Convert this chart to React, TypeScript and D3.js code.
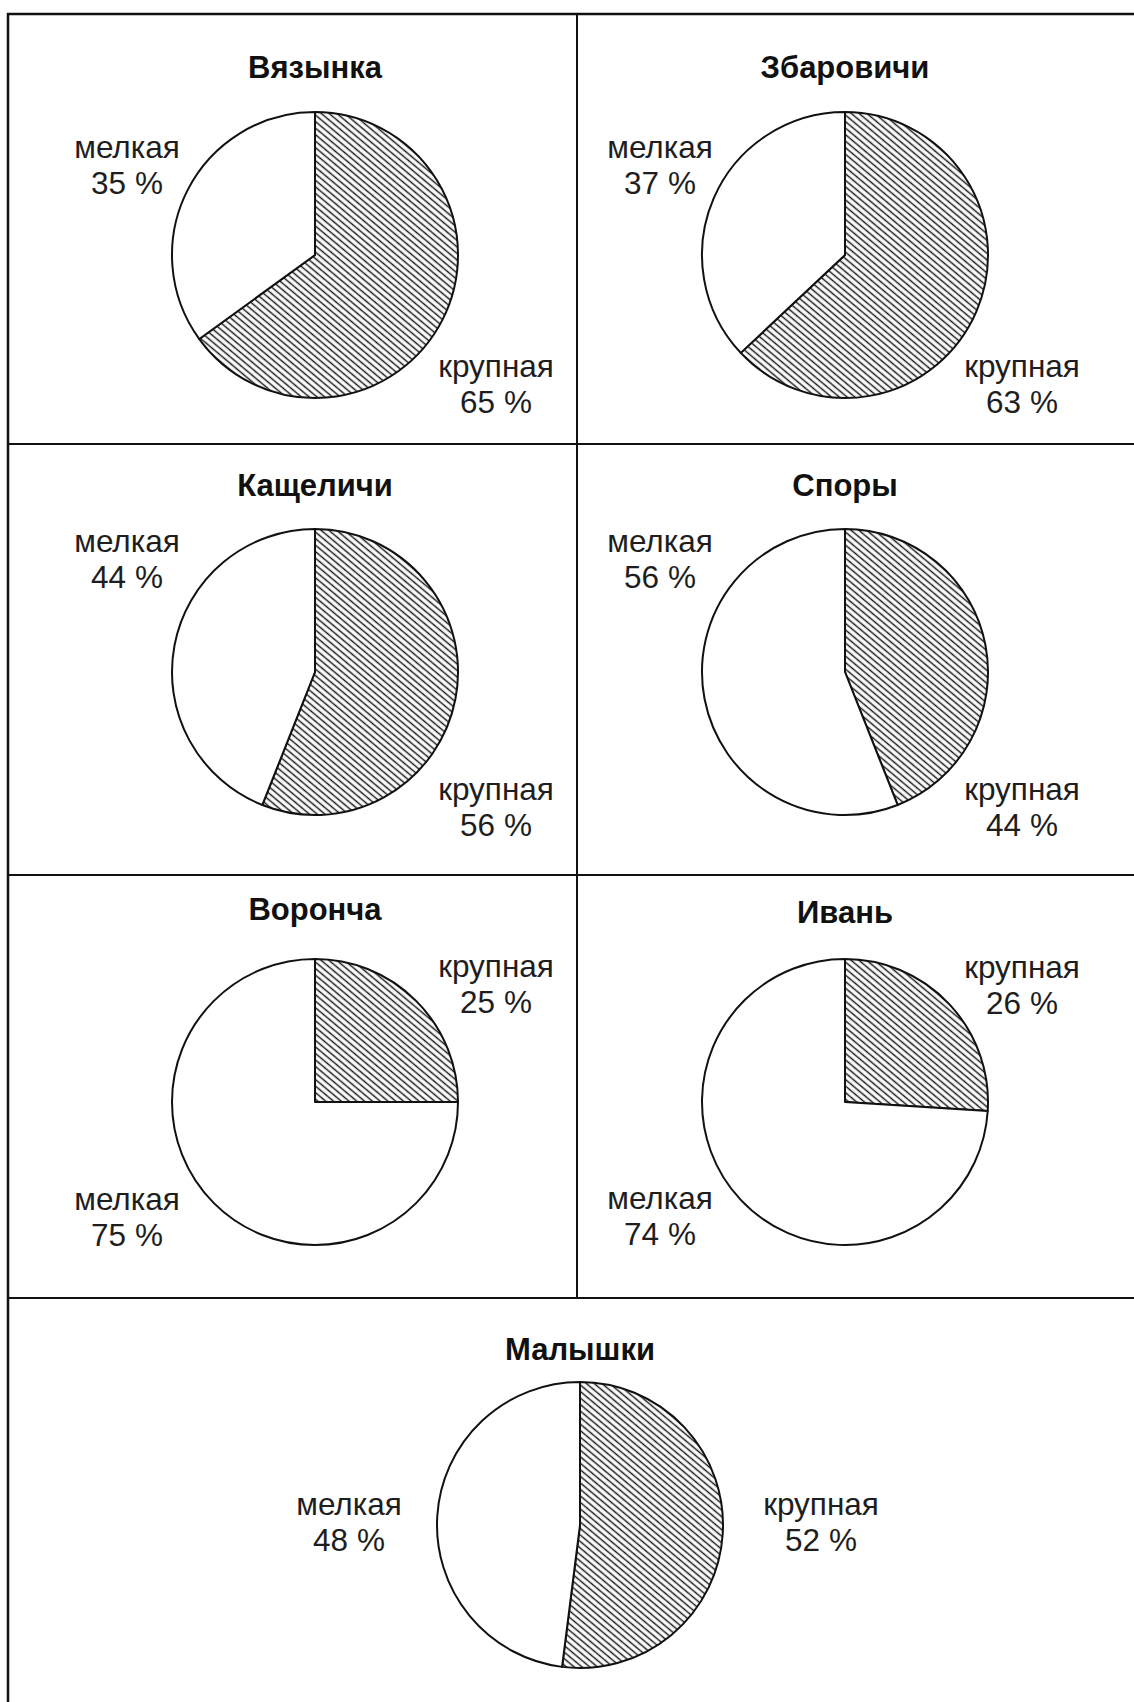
import React, { useEffect, useRef } from 'react';
import * as d3 from 'd3';

// villages, shares of large / small fraction (%)
const villages = ['Вязынка', 'Збаровичи', 'Кащеличи', 'Споры', 'Воронча', 'Ивань', 'Малышки'];
const largeShare = [65, 63, 56, 44, 25, 26, 52];
const smallShare = [35, 37, 44, 56, 75, 74, 48];
const categories = ['крупная', 'мелкая'];

const WIDTH = 1134;
const HEIGHT = 1702;
const RADIUS = 143;

// panel layout: pie centre, title baseline, label anchors (first line baseline)
const layout = [
  { cx: 315, cy: 255, ty: 78, large: [496, 377], small: [127, 158] },
  { cx: 845, cy: 255, ty: 78, large: [1022, 377], small: [660, 158] },
  { cx: 315, cy: 672, ty: 496, large: [496, 800], small: [127, 552] },
  { cx: 845, cy: 672, ty: 496, large: [1022, 800], small: [660, 552] },
  { cx: 315, cy: 1102, ty: 920, large: [496, 977], small: [127, 1210] },
  { cx: 845, cy: 1102, ty: 923, large: [1022, 978], small: [660, 1209] },
  { cx: 580, cy: 1525, ty: 1360, large: [821, 1515], small: [349, 1515] },
];

const App = () => {
  const ref = useRef(null);

  useEffect(() => {
    const svg = d3.select(ref.current);
    svg.selectAll('*').remove();

    svg.append('rect').attr('width', WIDTH).attr('height', HEIGHT).attr('fill', '#fff');

    // hatch pattern (lines running down to the right)
    const defs = svg.append('defs');
    const pat = defs
      .append('pattern')
      .attr('id', 'hatch')
      .attr('patternUnits', 'userSpaceOnUse')
      .attr('width', 20)
      .attr('height', 5)
      .attr('patternTransform', 'rotate(40)');
    pat
      .append('line')
      .attr('x1', 0)
      .attr('x2', 20)
      .attr('y1', 2.5)
      .attr('y2', 2.5)
      .attr('stroke', '#1a1a1a')
      .attr('stroke-width', 1.5);

    // grid lines
    const grid = svg.append('g').attr('stroke', '#111').attr('fill', 'none');
    grid.append('line').attr('x1', 8).attr('x2', 8).attr('y1', 13).attr('y2', HEIGHT).attr('stroke-width', 2.5);
    grid.append('line').attr('x1', 7).attr('x2', WIDTH).attr('y1', 14).attr('y2', 14).attr('stroke-width', 2.5);
    [444, 875, 1298].forEach(y => {
      grid.append('line').attr('x1', 7).attr('x2', WIDTH).attr('y1', y).attr('y2', y).attr('stroke-width', 2.2);
    });
    grid.append('line').attr('x1', 577).attr('x2', 577).attr('y1', 14).attr('y2', 1298).attr('stroke-width', 2);

    const pie = d3.pie<number>().sort(null).value(d => d);
    const arc = d3.arc<d3.PieArcDatum<number>>().innerRadius(0).outerRadius(RADIUS);

    villages.forEach((name, i) => {
      const L = layout[i];
      const g = svg.append('g').attr('transform', `translate(${L.cx},${L.cy})`);
      const arcs = pie([largeShare[i], smallShare[i]]);

      g.selectAll('path')
        .data(arcs)
        .enter()
        .append('path')
        .attr('d', arc)
        .attr('fill', (d, j) => (j === 0 ? 'url(#hatch)' : '#fff'))
        .attr('stroke', '#111')
        .attr('stroke-width', 2)
        .attr('stroke-linejoin', 'round');

      svg
        .append('text')
        .attr('x', L.cx)
        .attr('y', L.ty)
        .attr('text-anchor', 'middle')
        .attr('font-family', 'Liberation Sans, Arial, sans-serif')
        .attr('font-weight', 'bold')
        .attr('font-size', 31)
        .attr('fill', '#111')
        .text(name);

      const labels = [
        { pos: L.large, cat: categories[0], v: largeShare[i] },
        { pos: L.small, cat: categories[1], v: smallShare[i] },
      ];
      labels.forEach(lb => {
        const t = svg
          .append('text')
          .attr('text-anchor', 'middle')
          .attr('font-family', 'Liberation Sans, Arial, sans-serif')
          .attr('font-size', 31.5)
          .attr('fill', '#1e1e1e');
        t.append('tspan').attr('x', lb.pos[0]).attr('y', lb.pos[1]).text(lb.cat);
        t.append('tspan').attr('x', lb.pos[0]).attr('y', lb.pos[1] + 36).text(`${lb.v} %`);
      });
    });
  }, []);

  return (
    <svg
      ref={ref}
      width={WIDTH}
      height={HEIGHT}
      style={{ position: 'absolute', left: 0, top: 0, display: 'block' }}
    />
  );
};

export default App;
